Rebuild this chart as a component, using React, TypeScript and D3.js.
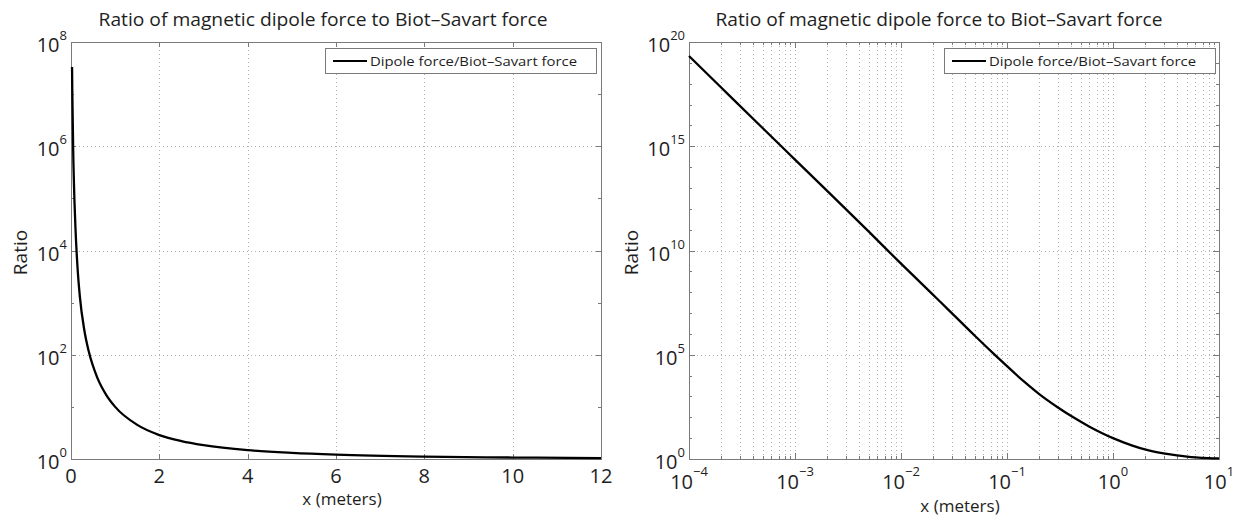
import React from 'react';
import * as d3 from 'd3';

// ---- Data ----
const xValues = [1e-4, 2e-4, 5e-4, 1e-3, 2e-3, 5e-3, 0.01, 0.02, 0.0237, 0.03, 0.05, 0.08, 0.1, 0.15, 0.2, 0.3, 0.4, 0.6, 0.8, 1, 1.5, 2, 2.5, 3, 4, 5, 6, 8, 10, 12];
const ratioValues = [2.14e19, 6.76e17, 7.08e15, 2.29e14, 7.41e12, 7.76e10, 2.34e9, 7.59e7, 3.3e7, 1.02e7, 7.94e5, 8.13e4, 2.82e4, 4.42e3, 1.32e3, 302, 117.5, 35.5, 16.8, 10.0, 4.51, 2.88, 2.21, 1.85, 1.48, 1.31, 1.21, 1.11, 1.067, 1.042];

const leftXTicks = [0, 2, 4, 6, 8, 10, 12];
const leftYExps = [0, 2, 4, 6, 8];
const rightXExps = [-4, -3, -2, -1, 0, 1];
const rightYExps = [0, 5, 10, 15, 20];

const titleText = 'Ratio of magnetic dipole force to Biot\u2013Savart force';
const legendText = 'Dipole force/Biot\u2013Savart force';
const xLabelText = 'x (meters)';
const yLabelText = 'Ratio';

const FONT = '"Open Sans", "DejaVu Sans", sans-serif';
const AXIS = '#7a7a7a';
const GRID = '#b0b0b0';
const TXT = '#1e1e1e';

const TOP = 42;
const BOTTOM = 459;
const TICK_FS = 20;
const SUP_FS = 13;

const pts = xValues.map((x, i) => ({ x, y: ratioValues[i] }));

function expLabel(e: number) {
  return e < 0 ? '\u2212' + Math.abs(e) : String(e);
}

function Legend({ x }: { x: number }) {
  const y = 48;
  const w = 271;
  const h = 25;
  return (
    <g>
      <rect x={x + 0.5} y={y + 0.5} width={w} height={h} fill="#fff" stroke={AXIS} strokeWidth={1} />
      <line x1={x + 8} x2={x + 42} y1={y + 13} y2={y + 13} stroke="#000" strokeWidth={2.2} />
      <text x={x + 45} y={y + 18} fontFamily={FONT} fontSize={13.5} fill={TXT} textLength={207} lengthAdjust="spacingAndGlyphs">
        {legendText}
      </text>
    </g>
  );
}

function LeftPanel() {
  const x0 = 71, x1 = 601;
  const xs = d3.scaleLinear().domain([0, 12]).range([x0, x1]);
  const ys = d3.scaleLog().domain([1, 1e8]).range([BOTTOM, TOP]);
  const data = pts.filter(p => p.x >= 0.0237 && p.x <= 12);
  const line = d3.line<{ x: number; y: number }>().x(d => xs(d.x)).y(d => ys(d.y)).curve(d3.curveMonotoneX);
  const r = (v: number) => Math.round(v) + 0.5;
  return (
    <g>
      {leftXTicks.slice(1, -1).map(t => (
        <line key={'gx' + t} x1={r(xs(t))} x2={r(xs(t))} y1={TOP} y2={BOTTOM} stroke={GRID} strokeDasharray="1,3" />
      ))}
      {leftYExps.slice(1, -1).map(e => (
        <line key={'gy' + e} x1={x0} x2={x1} y1={r(ys(Math.pow(10, e)))} y2={r(ys(Math.pow(10, e)))} stroke={GRID} strokeDasharray="1,3" />
      ))}
      {leftXTicks.map(t => (
        <g key={'tx' + t}>
          <line x1={r(xs(t))} x2={r(xs(t))} y1={BOTTOM} y2={BOTTOM - 5} stroke={AXIS} />
          <line x1={r(xs(t))} x2={r(xs(t))} y1={TOP} y2={TOP + 5} stroke={AXIS} />
          <text x={xs(t)} y={BOTTOM + 24} textAnchor="middle" fontFamily={FONT} fontSize={TICK_FS} fill={TXT}>{t}</text>
        </g>
      ))}
      {d3.range(0, 9).map(e => {
        const len = e % 2 === 0 ? 5 : 3;
        const yy = r(ys(Math.pow(10, e)));
        return (
          <g key={'ty' + e}>
            <line x1={x0} x2={x0 + len} y1={yy} y2={yy} stroke={AXIS} />
            <line x1={x1} x2={x1 - len} y1={yy} y2={yy} stroke={AXIS} />
          </g>
        );
      })}
      {leftYExps.map(e => (
        <text key={'ly' + e} x={x0 - 4} y={ys(Math.pow(10, e)) + 10} textAnchor="end" fontFamily={FONT} fontSize={TICK_FS} fill={TXT}>
          10<tspan dy={-12} fontSize={SUP_FS}>{expLabel(e)}</tspan>
        </text>
      ))}
      <rect x={x0 + 0.5} y={TOP + 0.5} width={x1 - x0} height={BOTTOM - TOP} fill="none" stroke={AXIS} />
      <path d={line(data) || ''} fill="none" stroke="#000" strokeWidth={2.3} strokeLinejoin="round" />
      <Legend x={325} />
      <text x={323} y={26} textAnchor="middle" fontFamily={FONT} fontSize={18.5} fill={TXT} textLength={449} lengthAdjust="spacingAndGlyphs">{titleText}</text>
      <text x={342} y={505} textAnchor="middle" fontFamily={FONT} fontSize={17} fill={TXT}>{xLabelText}</text>
      <text transform={`translate(27,${(TOP + BOTTOM) / 2 + 2}) rotate(-90)`} textAnchor="middle" fontFamily={FONT} fontSize={19} fill={TXT}>{yLabelText}</text>
    </g>
  );
}

function RightPanel() {
  const x0 = 689, x1 = 1219;
  const xs = d3.scaleLog().domain([1e-4, 10]).range([x0, x1]);
  const ys = d3.scaleLog().domain([1, 1e20]).range([BOTTOM, TOP]);
  const data = pts.filter(p => p.x <= 10);
  const line = d3.line<{ x: number; y: number }>().x(d => xs(d.x)).y(d => ys(d.y)).curve(d3.curveMonotoneX);
  const r = (v: number) => Math.round(v) + 0.5;
  const minors: number[] = [];
  for (let e = -4; e < 1; e++) for (let k = 2; k <= 9; k++) minors.push(k * Math.pow(10, e));
  return (
    <g>
      {minors.map(v => (
        <line key={'gm' + v} x1={r(xs(v))} x2={r(xs(v))} y1={TOP} y2={BOTTOM} stroke={GRID} strokeDasharray="1,3" />
      ))}
      {rightXExps.slice(1, -1).map(e => (
        <line key={'gx' + e} x1={r(xs(Math.pow(10, e)))} x2={r(xs(Math.pow(10, e)))} y1={TOP} y2={BOTTOM} stroke={GRID} strokeDasharray="1,3" />
      ))}
      {rightYExps.slice(1, -1).map(e => (
        <line key={'gy' + e} x1={x0} x2={x1} y1={r(ys(Math.pow(10, e)))} y2={r(ys(Math.pow(10, e)))} stroke={GRID} strokeDasharray="1,3" />
      ))}
      {minors.map(v => (
        <g key={'tm' + v}>
          <line x1={r(xs(v))} x2={r(xs(v))} y1={BOTTOM} y2={BOTTOM - 3} stroke={AXIS} />
          <line x1={r(xs(v))} x2={r(xs(v))} y1={TOP} y2={TOP + 3} stroke={AXIS} />
        </g>
      ))}
      {rightXExps.map(e => (
        <g key={'tx' + e}>
          <line x1={r(xs(Math.pow(10, e)))} x2={r(xs(Math.pow(10, e)))} y1={BOTTOM} y2={BOTTOM - 6} stroke={AXIS} />
          <line x1={r(xs(Math.pow(10, e)))} x2={r(xs(Math.pow(10, e)))} y1={TOP} y2={TOP + 6} stroke={AXIS} />
          <text x={xs(Math.pow(10, e))} y={BOTTOM + 30} textAnchor="middle" fontFamily={FONT} fontSize={TICK_FS} fill={TXT}>
            10<tspan dy={-13} fontSize={SUP_FS}>{expLabel(e)}</tspan>
          </text>
        </g>
      ))}
      {d3.range(0, 21).map(e => {
        const len = e % 5 === 0 ? 6 : 3;
        const yy = r(ys(Math.pow(10, e)));
        return (
          <g key={'ty' + e}>
            <line x1={x0} x2={x0 + len} y1={yy} y2={yy} stroke={AXIS} />
            <line x1={x1} x2={x1 - len} y1={yy} y2={yy} stroke={AXIS} />
          </g>
        );
      })}
      {rightYExps.map(e => (
        <text key={'ly' + e} x={x0 - 4} y={ys(Math.pow(10, e)) + 10} textAnchor="end" fontFamily={FONT} fontSize={TICK_FS} fill={TXT}>
          10<tspan dy={-12} fontSize={SUP_FS}>{expLabel(e)}</tspan>
        </text>
      ))}
      <rect x={x0 + 0.5} y={TOP + 0.5} width={x1 - x0} height={BOTTOM - TOP} fill="none" stroke={AXIS} />
      <path d={line(data) || ''} fill="none" stroke="#000" strokeWidth={2.3} strokeLinejoin="round" />
      <Legend x={944} />
      <text x={939} y={26} textAnchor="middle" fontFamily={FONT} fontSize={18.5} fill={TXT} textLength={447} lengthAdjust="spacingAndGlyphs">{titleText}</text>
      <text x={960} y={512} textAnchor="middle" fontFamily={FONT} fontSize={17} fill={TXT}>{xLabelText}</text>
      <text transform={`translate(638,${(TOP + BOTTOM) / 2 + 2}) rotate(-90)`} textAnchor="middle" fontFamily={FONT} fontSize={19} fill={TXT}>{yLabelText}</text>
    </g>
  );
}

export default function App() {
  return (
    <svg width={1241} height={517} style={{ position: 'absolute', left: 0, top: 0, background: '#fff' }}>
      <rect x={0} y={0} width={1241} height={517} fill="#fff" />
      <LeftPanel />
      <RightPanel />
    </svg>
  );
}
